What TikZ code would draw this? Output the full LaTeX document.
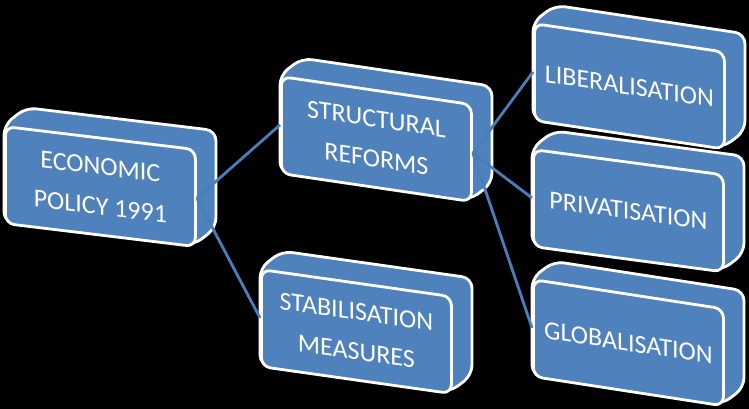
\documentclass[tikz,border=0pt]{standalone}
\usepackage{fontspec}
\setmainfont{Carlito}
\usetikzlibrary{positioning, calc}
\definecolor{Face}{HTML}{4F81BD}
\definecolor{Link}{HTML}{4A7EBB}
\definecolor{Edge}{HTML}{FFFFFF}
\tikzset{
    boxbody/.style={fill=Face, draw=Edge, line width=2.8pt, rounded corners=10pt, line join=round},
    boxfront/.style={rectangle, fill=Face, draw=Edge, line width=2.8pt, rounded corners=9pt,
        minimum width=190pt, minimum height=97pt, inner sep=0pt, anchor=north west,
        text=white, align=center, transform shape, font=\fontsize{26}{40}\selectfont},
    link/.style={draw=Link, line width=2.8pt},
}
% one block: name, top-left x, top-left y (measured downwards), slope, text
\newcommand{\blockbox}[5]{%
    \begin{scope}[shift={(#2,-#3)}, yslant=-#4]
        \draw[boxbody] (0,0) -- ++(22,20) -- ++(190,0) -- ++(0,-97) -- ++(-22,-20) -- ++(-190,0) -- cycle;
        \node[boxfront] (#1) at (0,0) {#5};
    \end{scope}}

\begin{document}
\begin{tikzpicture}[x=1pt, y=1pt]
    % Sfondo
    \fill[black] (0,0) rectangle (749,-409);
    \useasboundingbox (0,0) rectangle (749,-409);

    % Blocchi
    \blockbox{eco}{4}{125}{0.121}{ECONOMIC\\POLICY 1991}
    \blockbox{stab}{260}{268}{0.142}{STABILISATION\\MEASURES}
    \blockbox{struct}{280}{75}{0.147}{STRUCTURAL\\REFORMS}
    \blockbox{glob}{532}{278}{0.154}{GLOBALISATION}
    \blockbox{priv}{532}{148}{0.133}{PRIVATISATION}
    \blockbox{lib}{533}{22}{0.150}{LIBERALISATION}

    % Collegamenti
    \draw[link] (eco.east) -- (struct.west);
    \draw[link] (eco.east) -- (stab.west);
    \draw[link] (struct.east) -- (lib.west);
    \draw[link] (struct.east) -- (priv.west);
    \draw[link] (struct.east) -- (glob.west);
\end{tikzpicture}
\end{document}
